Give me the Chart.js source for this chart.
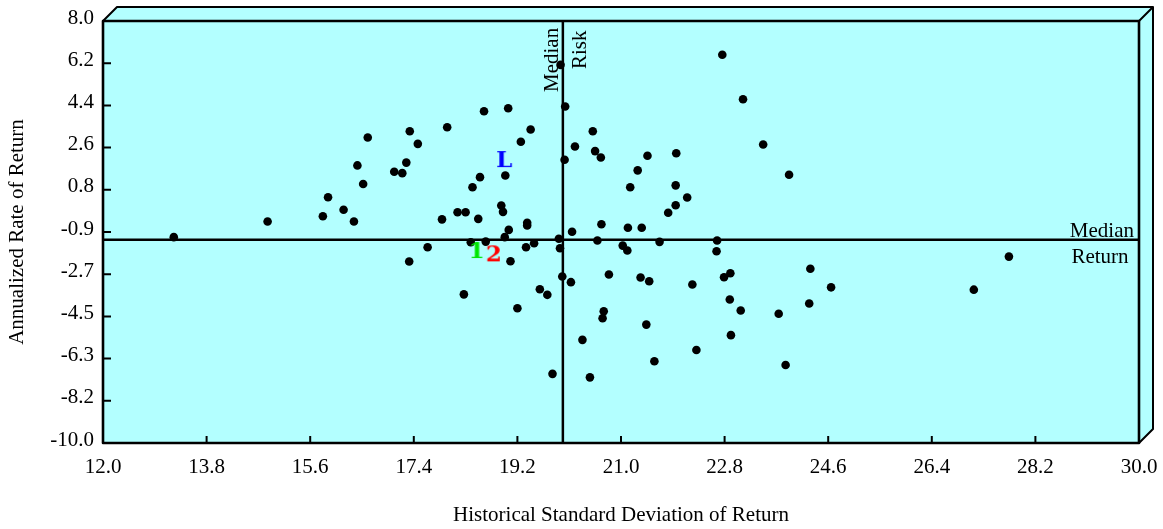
<!DOCTYPE html>
<html>
<head>
<meta charset="utf-8">
<script src="https://cdn.jsdelivr.net/npm/chart.js@4.4.0/dist/chart.umd.min.js"></script>
<style>
html, body { margin: 0; padding: 0; background: #ffffff; }
#wrap { width: 1163px; height: 529px; }
</style>
</head>
<body>
<div id="wrap"><canvas id="c" width="1163" height="529"></canvas></div>
<script>
// ---------------- DATA ----------------
const xTickValues = [12.0, 13.8, 15.6, 17.4, 19.2, 21.0, 22.8, 24.6, 26.4, 28.2, 30.0];
const xTickLabels = ['12.0', '13.8', '15.6', '17.4', '19.2', '21.0', '22.8', '24.6', '26.4', '28.2', '30.0'];
const yTickValues = [-10.0, -8.2, -6.4, -4.6, -2.8, -1.0, 0.8, 2.6, 4.4, 6.2, 8.0];
const yTickLabels = ['-10.0', '-8.2', '-6.3', '-4.5', '-2.7', '-0.9', '0.8', '2.6', '4.4', '6.2', '8.0'];

const fundRisk = [
  22.76, 19.95, 23.12, 18.62, 19.04, 20.03, 17.33, 17.98, 19.43, 20.51,
  17.47, 19.26, 23.47, 20.20, 20.55, 20.65, 21.46, 21.96, 17.27, 20.02,
  17.06, 17.20, 18.55, 18.99, 21.29, 16.60, 16.42, 23.92, 13.23, 14.86,
  15.82, 15.91, 16.18, 16.36, 16.52, 18.42, 21.16, 21.95, 22.15, 21.95,
  21.82, 18.92, 18.95, 18.16, 18.30, 17.89, 18.52, 19.37, 19.37, 20.66,
  21.12, 21.36, 19.05, 20.15, 18.98, 19.92, 20.59, 21.67, 22.67, 18.39,
  18.65, 19.49, 17.64, 19.35, 19.94, 21.03, 21.11, 22.66, 17.32, 19.08,
  19.98, 20.13, 20.79, 21.34, 21.49, 22.24, 22.79, 22.90, 22.89, 23.08,
  23.74, 18.27, 19.59, 19.72, 19.20, 20.70, 20.68, 21.44, 22.91, 20.33,
  22.31, 27.74, 24.29, 24.65, 27.13, 24.27, 19.81, 20.46, 21.58, 23.86
];
const fundReturn = [
   6.56,  6.13,  4.66,  4.15,  4.28,  4.35,  3.30,  3.47,  3.37,  3.30,
   2.76,  2.85,  2.73,  2.65,  2.45,  2.18,  2.25,  2.36,  1.96,  2.08,
   1.57,  1.51,  1.34,  1.41,  1.63,  3.03,  1.84,  1.44, -1.22, -0.55,
  -0.33,  0.48, -0.05, -0.55,  1.05,  0.91,  0.91,  0.99,  0.47,  0.14,
  -0.18,  0.13, -0.14, -0.16, -0.16, -0.46, -0.44, -0.61, -0.72, -0.67,
  -0.82, -0.82, -0.91, -0.99, -1.22, -1.29, -1.36, -1.42, -1.36, -1.44,
  -1.41, -1.48, -1.65, -1.65, -1.69, -1.58, -1.79, -1.82, -2.26, -2.25,
  -2.90, -3.14, -2.81, -2.94, -3.10, -3.24, -2.93, -2.76, -3.88, -4.35,
  -4.49, -3.66, -3.44, -3.68, -4.25, -4.38, -4.68, -4.95, -5.40, -5.60,
  -6.03, -2.05, -2.57, -3.36, -3.46, -4.05, -7.05, -7.20, -6.51, -6.67
];

const markerLabels = ['L', '1', '2'];
const markerRisk = [18.97, 18.49, 18.79];
const markerReturn = [2.11, -1.77, -1.91];
const markerColors = ['#0000ff', '#00e600', '#ff0000'];

const medianRisk = 19.99;
const medianReturn = -1.33;

const xTitle = 'Historical Standard Deviation of Return';
const yTitle = 'Annualized Rate of Return';

// ---------------- STYLE ----------------
const SERIF = "'Liberation Serif', 'Times New Roman', serif";
const FACE = '#b3ffff';
const DEPTH = 14;

function letterCanvas(ch, color) {
  const c = document.createElement('canvas');
  c.width = 36; c.height = 36;
  const g = c.getContext('2d');
  const fam = "'DejaVu Serif', 'Liberation Serif', serif";
  g.font = 'bold 100px ' + fam;
  const ref = g.measureText('L');
  const capH = ref.actualBoundingBoxAscent + ref.actualBoundingBoxDescent;
  const size = Math.round(100 * 17 / capH);
  g.font = 'bold ' + size + 'px ' + fam;
  g.fillStyle = color;
  g.textAlign = 'center';
  g.textBaseline = 'alphabetic';
  const m = g.measureText(ch);
  const h = m.actualBoundingBoxAscent + m.actualBoundingBoxDescent;
  g.fillText(ch, 18, 18 + h / 2 - m.actualBoundingBoxDescent);
  return c;
}

const fundPoints = fundRisk.map((x, i) => ({ x: x, y: fundReturn[i] }));
const markerPoints = markerRisk.map((x, i) => ({ x: x, y: markerReturn[i] }));
const markerStyles = markerLabels.map((t, i) => letterCanvas(t, markerColors[i]));

const boxPlugin = {
  id: 'box3d',
  beforeDatasetsDraw(chart) {
    const { ctx, chartArea: a } = chart;
    const d = DEPTH;
    ctx.save();
    ctx.fillStyle = FACE;
    ctx.fillRect(a.left, a.top, a.right - a.left, a.bottom - a.top);
    ctx.beginPath();
    ctx.moveTo(a.left, a.top); ctx.lineTo(a.left + d, a.top - d);
    ctx.lineTo(a.right + d, a.top - d); ctx.lineTo(a.right, a.top); ctx.closePath();
    ctx.fill();
    ctx.beginPath();
    ctx.moveTo(a.right, a.top); ctx.lineTo(a.right + d, a.top - d);
    ctx.lineTo(a.right + d, a.bottom - d); ctx.lineTo(a.right, a.bottom); ctx.closePath();
    ctx.fill();
    ctx.restore();
  },
  afterDatasetsDraw(chart) {
    const { ctx, chartArea: a, scales } = chart;
    const d = DEPTH;
    ctx.save();
    ctx.strokeStyle = '#000';
    ctx.lineJoin = 'round';
    // depth outline
    ctx.lineWidth = 2;
    ctx.beginPath();
    ctx.moveTo(a.left, a.top); ctx.lineTo(a.left + d, a.top - d);
    ctx.lineTo(a.right + d, a.top - d); ctx.lineTo(a.right + d, a.bottom - d);
    ctx.lineTo(a.right, a.bottom);
    ctx.moveTo(a.right, a.top); ctx.lineTo(a.right + d, a.top - d);
    ctx.stroke();
    // front face
    ctx.lineWidth = 2.6;
    ctx.strokeRect(a.left, a.top, a.right - a.left, a.bottom - a.top);
    // tick marks (inward)
    ctx.lineWidth = 2;
    ctx.beginPath();
    xTickValues.forEach(v => {
      const px = scales.x.getPixelForValue(v);
      if (px > a.left + 2 && px < a.right - 2) { ctx.moveTo(px, a.bottom); ctx.lineTo(px, a.bottom - 7); }
    });
    yTickValues.forEach(v => {
      const py = scales.y.getPixelForValue(v);
      if (py > a.top + 2 && py < a.bottom - 2) { ctx.moveTo(a.left, py); ctx.lineTo(a.left + 8, py); }
    });
    ctx.stroke();
    // median labels
    const ym = scales.y.getPixelForValue(medianReturn);
    const xm = scales.x.getPixelForValue(medianRisk);
    ctx.fillStyle = '#000';
    ctx.font = '21px ' + SERIF;
    ctx.textBaseline = 'alphabetic';
    ctx.textAlign = 'right';
    ctx.fillText('Median', a.right - 5, ym - 3);
    ctx.textAlign = 'center';
    ctx.fillText('Return', a.right - 39, ym + 23);
    ctx.save();
    ctx.translate(xm - 5, a.top + 71);
    ctx.rotate(-Math.PI / 2);
    ctx.textAlign = 'left';
    ctx.fillText('Median', 0, 0);
    ctx.restore();
    ctx.save();
    ctx.translate(xm + 23, a.top + 48);
    ctx.rotate(-Math.PI / 2);
    ctx.textAlign = 'left';
    ctx.fillText('Risk', 0, 0);
    ctx.restore();
    ctx.restore();
  }
};

new Chart(document.getElementById('c'), {
  type: 'scatter',
  data: {
    datasets: [
      {
        label: 'Markers',
        data: markerPoints,
        pointStyle: markerStyles,
        pointRadius: 10,
        pointHoverRadius: 10
      },
      {
        label: 'Funds',
        data: fundPoints,
        pointRadius: 4.3,
        pointHoverRadius: 4.3,
        pointBorderWidth: 0,
        backgroundColor: '#000',
        borderColor: '#000'
      },
      {
        label: 'Median Return',
        data: [{ x: xTickValues[0], y: medianReturn }, { x: xTickValues[xTickValues.length - 1], y: medianReturn }],
        showLine: true,
        borderColor: '#000',
        borderWidth: 2.5,
        pointRadius: 0,
        pointHoverRadius: 0
      },
      {
        label: 'Median Risk',
        data: [{ x: medianRisk, y: yTickValues[0] }, { x: medianRisk, y: yTickValues[yTickValues.length - 1] }],
        showLine: true,
        borderColor: '#000',
        borderWidth: 2.5,
        pointRadius: 0,
        pointHoverRadius: 0
      }
    ]
  },
  options: {
    responsive: false,
    animation: false,
    devicePixelRatio: 1,
    events: [],
    layout: { padding: { top: 21, right: 24, left: 0, bottom: 0 } },
    plugins: { legend: { display: false }, tooltip: { enabled: false } },
    scales: {
      x: {
        type: 'linear',
        min: xTickValues[0],
        max: xTickValues[xTickValues.length - 1],
        afterBuildTicks: s => { s.ticks = xTickValues.map(v => ({ value: v })); },
        afterFit: s => { s.height = 86; s.paddingLeft = 0; s.paddingRight = 0; },
        grid: { display: false, drawTicks: false },
        border: { display: false },
        ticks: {
          autoSkip: false, maxRotation: 0, minRotation: 0,
          padding: 12, color: '#000',
          font: { family: SERIF, size: 21 },
          callback: (v, i) => xTickLabels[i]
        },
        title: {
          display: true, text: xTitle, color: '#000',
          font: { family: SERIF, size: 21 },
          padding: { top: 0, bottom: 1 }
        }
      },
      y: {
        type: 'linear',
        min: yTickValues[0],
        max: yTickValues[yTickValues.length - 1],
        afterBuildTicks: s => { s.ticks = yTickValues.map(v => ({ value: v })); },
        afterFit: s => { s.width = 103; s.paddingTop = 0; s.paddingBottom = 0; },
        grid: { display: false, drawTicks: false },
        border: { display: false },
        ticks: {
          autoSkip: false, padding: 9, color: '#000', labelOffset: -3,
          font: { family: SERIF, size: 21 },
          callback: (v, i) => yTickLabels[i]
        },
        title: {
          display: true, text: yTitle, color: '#000',
          font: { family: SERIF, size: 21 },
          padding: { top: 5, bottom: 0 }
        }
      }
    }
  },
  plugins: [boxPlugin]
});
</script>
</body>
</html>
